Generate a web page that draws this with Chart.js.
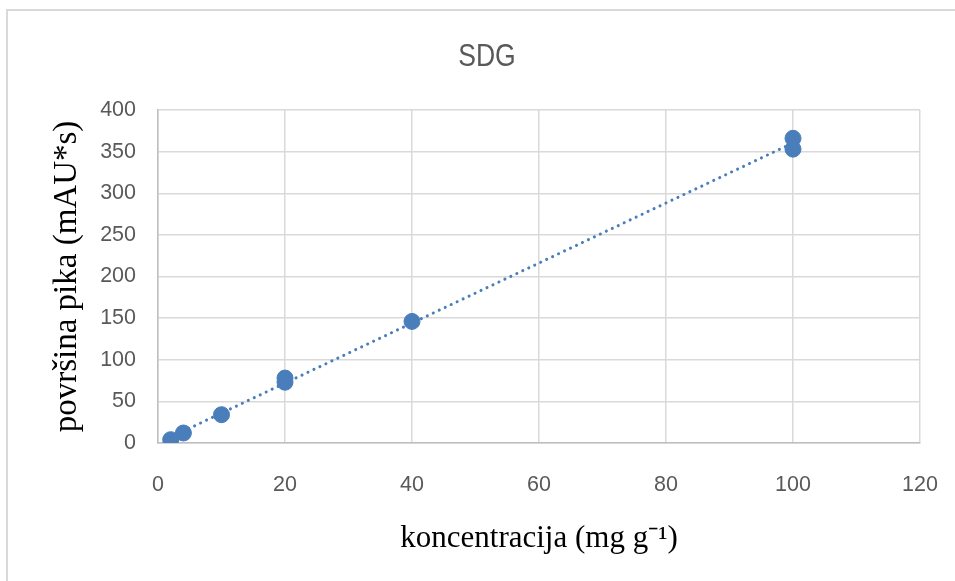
<!DOCTYPE html>
<html>
<head>
<meta charset="utf-8">
<script src="https://cdn.jsdelivr.net/npm/chart.js@4"></script>
<style>
    html, body { margin: 0; padding: 0; background: #ffffff; }
    body { width: 955px; height: 581px; overflow: hidden; position: relative; }
    .frame {
        position: absolute; left: 6px; top: 9px; width: 990px; height: 600px;
        border-top: 2px solid #d9d9d9; border-left: 2px solid #d9d9d9;
    }
    .wrap { position: absolute; left: 0; top: 0; width: 955px; height: 581px; }
    .chart-title {
        position: absolute; left: 387px; top: 36px; width: 200px;
        text-align: center; font-family: "Liberation Sans", sans-serif;
        font-size: 32px; line-height: 38px; color: #595959;
        transform: scaleX(0.83); transform-origin: center;
    }
</style>
</head>
<body>
<div class="frame"></div>
<div class="wrap"><canvas id="sdgChart" width="955" height="581"></canvas></div>
<div class="chart-title">SDG</div>
<script>
// Measured calibration points (concentration, peak area)
const concentrations = [2, 4, 10, 20, 20, 40, 100, 100];
const peakAreas = [4, 12, 34, 78, 73, 146, 366, 353];

const xTicks = [0, 20, 40, 60, 80, 100, 120];
const yTicks = [0, 50, 100, 150, 200, 250, 300, 350, 400];

const blue = '#4a7ebb';
const gridGray = '#d9d9d9';
const textGray = '#595959';

// Linear trendline (least squares) over the data range
function linearFit(xs, ys) {
    const n = xs.length;
    const mx = xs.reduce((a, b) => a + b, 0) / n;
    const my = ys.reduce((a, b) => a + b, 0) / n;
    let sxy = 0, sxx = 0;
    xs.forEach((x, i) => {
        sxy += (x - mx) * (ys[i] - my);
        sxx += (x - mx) * (x - mx);
    });
    const slope = sxy / sxx;
    return { slope: slope, intercept: my - slope * mx };
}

const fit = linearFit(concentrations, peakAreas);
const xMin = Math.min(...concentrations);
const xMax = Math.max(...concentrations);
const trendPoints = [xMin, xMax].map(x => ({ x: x, y: fit.slope * x + fit.intercept }));

const scatterPoints = concentrations.map((x, i) => ({ x: x, y: peakAreas[i] }));

const ctx = document.getElementById('sdgChart');

new Chart(ctx, {
    type: 'scatter',
    data: {
        datasets: [
            {
                label: 'trend',
                type: 'line',
                data: trendPoints,
                borderColor: blue,
                borderWidth: 3,
                borderDash: [0.1, 6.5],
                borderCapStyle: 'round',
                pointRadius: 0,
                fill: false,
                order: 2
            },
            {
                label: 'SDG',
                data: scatterPoints,
                backgroundColor: blue,
                borderColor: blue,
                pointRadius: 8,
                order: 1
            }
        ]
    },
    options: {
        responsive: false,
        animation: false,
        layout: { padding: { left: 0, right: 35, top: 110, bottom: 0 } },
        plugins: {
            legend: { display: false },
            tooltip: { enabled: false },
            title: { display: false }
        },
        scales: {
            x: {
                type: 'linear',
                min: 0,
                max: 120,
                afterBuildTicks: axis => { axis.ticks = xTicks.map(v => ({ value: v })); },
                afterFit: axis => {
                    axis.height = 138;
                    axis.paddingLeft = 0;
                    axis.paddingRight = 0;
                },
                grid: { color: gridGray, lineWidth: 1.5, drawTicks: false },
                border: { color: '#bfbfbf', width: 1.5 },
                ticks: {
                    color: textGray,
                    padding: 29,
                    maxRotation: 0,
                    font: { family: '"Liberation Sans", sans-serif', size: 21.5 }
                },
                title: {
                    display: true,
                    text: 'koncentracija (mg g⁻¹)',
                    color: '#000000',
                    font: { family: '"Liberation Serif", "Times New Roman", serif', size: 31 },
                    padding: { top: 0, bottom: 24 }
                }
            },
            y: {
                type: 'linear',
                min: 0,
                max: 400,
                afterBuildTicks: axis => { axis.ticks = yTicks.map(v => ({ value: v })); },
                afterFit: axis => {
                    axis.width = 158;
                    axis.paddingTop = 0;
                    axis.paddingBottom = 0;
                },
                grid: { color: gridGray, lineWidth: 1.5, drawTicks: false },
                border: { color: '#bfbfbf', width: 1.5 },
                ticks: {
                    color: textGray,
                    padding: 22,
                    font: { family: '"Liberation Sans", sans-serif', size: 21.5 }
                },
                title: {
                    display: true,
                    text: 'površina pika (mAU*s)',
                    color: '#000000',
                    font: { family: '"Liberation Serif", "Times New Roman", serif', size: 33 },
                    padding: { top: 48, bottom: 0 }
                }
            }
        }
    }
});
</script>
</body>
</html>
